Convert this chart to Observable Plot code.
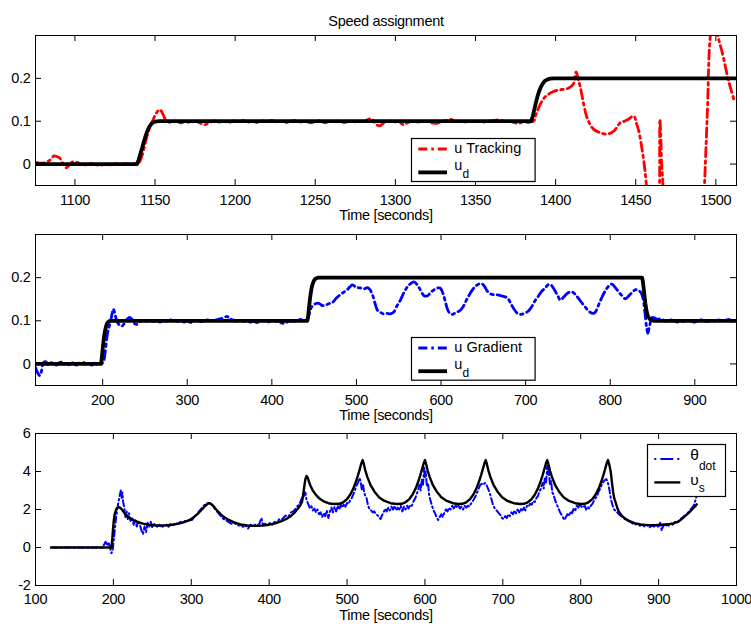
<!DOCTYPE html>
<html><head><meta charset="utf-8">
<script src="https://cdn.jsdelivr.net/npm/d3@7"></script>
<script src="https://cdn.jsdelivr.net/npm/@observablehq/plot@0.6"></script>
<style>
body{margin:0;background:#fff;}
#chart{position:relative;width:751px;height:624px;}
</style></head>
<body><div id="chart"></div>
<script>
// ---------- DATA ----------
const titleText = "Speed assignment";
const xLabel = "Time [seconds]";

// Panel 1: tracking controller
const p1XTicks = [1100,1150,1200,1250,1300,1350,1400,1450,1500];
const p1YTicks = [0,0.1,0.2];
const p1XDomain = [1075.4,1512.9];
const p1YDomain = [-0.05,0.3];
const uTracking = [[1075.4,0.004],[1078,0.002],[1081,0.003],[1084,0.008],[1087,0.019],[1089,0.017],[1090.5,0.014],[1092.5,0.002],[1094.5,-0.009],[1096.5,-0.002],[1098.5,0.005],[1101,0.004],[1104,0.001],[1107,-0.002],[1110,0.001],[1113,-0.001],[1116,-0.003],[1119,0],[1122,-0.002],[1125,0.001],[1128,-0.001],[1131,0.001],[1134,0],[1137,0.001],[1139.5,0.001],[1141,0.01],[1143,0.035],[1145,0.065],[1147,0.088],[1149,0.105],[1151,0.12],[1153,0.127],[1155,0.116],[1157,0.101],[1160,0.097],[1163,0.1],[1166,0.096],[1169,0.099],[1172,0.097],[1175,0.1],[1178,0.096],[1181,0.092],[1184,0.097],[1187,0.101],[1190,0.098],[1193,0.1],[1196,0.097],[1199,0.101],[1202,0.099],[1205,0.102],[1208,0.098],[1211,0.1],[1214,0.097],[1217,0.101],[1220,0.099],[1223,0.102],[1226,0.098],[1229,0.1],[1232,0.097],[1235,0.1],[1238,0.102],[1241,0.098],[1244,0.1],[1247,0.096],[1250,0.099],[1253,0.101],[1256,0.096],[1259,0.1],[1262,0.098],[1265,0.101],[1268,0.097],[1271,0.1],[1274,0.098],[1277,0.101],[1280,0.099],[1283,0.104],[1285,0.106],[1287,0.097],[1290,0.089],[1293,0.097],[1296,0.101],[1299,0.098],[1302,0.1],[1305,0.092],[1308,0.097],[1311,0.1],[1314,0.098],[1317,0.101],[1320,0.099],[1323,0.096],[1326,0.095],[1329,0.1],[1332,0.102],[1335,0.104],[1338,0.099],[1341,0.101],[1344,0.098],[1347,0.1],[1350,0.099],[1353,0.101],[1356,0.098],[1359,0.1],[1362,0.102],[1365,0.103],[1368,0.099],[1371,0.1],[1374,0.097],[1377,0.095],[1380,0.099],[1383,0.097],[1385,0.099],[1386.3,0.1],[1388,0.118],[1390.5,0.14],[1393,0.155],[1395.7,0.163],[1398,0.168],[1401,0.172],[1404,0.174],[1408,0.177],[1411,0.186],[1412.8,0.215],[1414,0.2],[1415.5,0.178],[1417.5,0.14],[1419.3,0.112],[1421.5,0.093],[1423.8,0.081],[1428,0.073],[1432.2,0.07],[1436.3,0.077],[1440.5,0.097],[1443,0.1],[1445.6,0.105],[1448.8,0.112],[1450.5,0.095],[1451.9,0.077],[1453.5,0.045],[1455,0.008],[1456.6,-0.046],[1458,-0.15],[1460,-0.35],[1464.2,-0.3],[1464.9,-0.05],[1465.1,0.105],[1465.6,0.07],[1466.2,0.0],[1467,-0.05],[1467.6,-0.3],[1475,-0.5],[1488,-0.4],[1492.2,-0.1],[1492.9,-0.05],[1494.7,0.12],[1496.6,0.3],[1499,0.35],[1501.2,0.3],[1504,0.26],[1508,0.194],[1511.6,0.146]];
const udTracking = [[1075.4,0],[1138.8,0],[1140,0.012],[1141,0.026],[1142,0.038],[1143,0.052],[1144,0.064],[1145,0.075],[1146,0.084],[1147,0.09],[1148,0.095],[1149.5,0.0985],[1151,0.0996],[1153,0.1],[1384.7,0.1],[1385.7,0.111],[1386.7,0.127],[1387.7,0.143],[1388.7,0.158],[1389.7,0.17],[1390.8,0.18],[1392,0.188],[1393.3,0.194],[1394.8,0.197],[1396.5,0.1993],[1399,0.2],[1512.9,0.2]];

// Panel 2: gradient controller
const p2XTicks = [200,300,400,500,600,700,800,900];
const p2YTicks = [0,0.1,0.2];
const p2XDomain = [120.6,949.3];
const p2YDomain = [-0.05,0.3];
const uGradient = [[120.6,-0.008],[123,-0.02],[125.5,-0.027],[127.5,-0.018],[130,0.003],[133,0.005],[136,-0.002],[139,0.003],[142,0.001],[145,-0.003],[148,0.002],[151,0.004],[154,-0.001],[157,0.002],[160,-0.002],[163,0.003],[166,0.001],[169,-0.003],[172,0.002],[175,0],[178,0.003],[181,-0.002],[184,0.001],[187,-0.003],[190,0.002],[193,-0.001],[196,0.001],[199,0.001],[201,0.005],[202.5,0.02],[204,0.045],[205.5,0.068],[207.5,0.085],[209.2,0.097],[211,0.115],[212.5,0.127],[214,0.12],[215.5,0.108],[217,0.098],[220,0.09],[223,0.088],[226,0.095],[229,0.104],[232,0.108],[235,0.103],[238,0.093],[241,0.092],[244,0.098],[248,0.101],[252,0.099],[256,0.102],[260,0.098],[264,0.1],[268,0.097],[272,0.101],[276,0.099],[280,0.102],[284,0.1],[288,0.098],[292,0.101],[296,0.097],[300,0.099],[304,0.096],[308,0.1],[312,0.101],[316,0.098],[320,0.1],[324,0.102],[328,0.099],[332,0.101],[336,0.103],[340,0.105],[344,0.108],[347,0.11],[350,0.105],[354,0.102],[358,0.099],[362,0.101],[366,0.098],[370,0.1],[374,0.097],[378,0.099],[382,0.096],[386,0.098],[390,0.1],[394,0.097],[398,0.099],[402,0.101],[406,0.098],[410,0.096],[414,0.094],[418,0.097],[422,0.1],[426,0.099],[430,0.101],[434,0.103],[438,0.1],[441,0.102],[443,0.108],[445,0.122],[447,0.132],[449,0.136],[452,0.14],[456,0.14],[460,0.135],[464,0.137],[468,0.14],[472,0.143],[476,0.152],[480,0.159],[484,0.165],[488,0.17],[492,0.178],[495,0.183],[498,0.18],[501,0.177],[505,0.176],[509,0.174],[513,0.177],[516,0.172],[519,0.16],[522,0.14],[525,0.124],[528,0.12],[532,0.116],[536,0.117],[540,0.116],[544,0.12],[548,0.135],[552,0.148],[556,0.165],[560,0.178],[564,0.186],[568,0.19],[572,0.183],[576,0.17],[580,0.158],[584,0.158],[588,0.166],[592,0.172],[596,0.176],[599,0.176],[602,0.165],[605,0.145],[608,0.125],[611,0.116],[614,0.115],[618,0.12],[622,0.123],[626,0.132],[630,0.148],[634,0.162],[638,0.174],[642,0.182],[646,0.186],[649,0.185],[652,0.178],[655,0.168],[659,0.162],[663,0.16],[667,0.16],[671,0.158],[675,0.156],[679,0.152],[683,0.138],[687,0.125],[691,0.116],[695,0.115],[699,0.118],[703,0.122],[707,0.132],[711,0.146],[715,0.157],[719,0.168],[723,0.176],[727,0.184],[730,0.183],[734,0.172],[738,0.158],[741,0.148],[745,0.155],[749,0.163],[753,0.167],[756,0.166],[760,0.158],[764,0.148],[768,0.138],[772,0.128],[776,0.12],[780,0.117],[783,0.122],[787,0.14],[791,0.158],[795,0.172],[799,0.182],[802,0.185],[806,0.177],[810,0.167],[814,0.158],[818,0.151],[822,0.158],[826,0.166],[830,0.172],[834,0.17],[837,0.163],[839,0.15],[841,0.12],[843,0.085],[844.5,0.071],[846,0.083],[848,0.1],[850,0.108],[853,0.106],[856,0.103],[860,0.105],[864,0.1],[868,0.098],[872,0.102],[876,0.099],[880,0.097],[884,0.1],[888,0.098],[892,0.101],[896,0.099],[900,0.097],[904,0.1],[908,0.102],[912,0.098],[916,0.099],[920,0.101],[924,0.099],[928,0.102],[932,0.1],[936,0.101],[940,0.103],[944,0.099],[949.3,0.103]];
const udGradient = [[120.6,0],[198.2,0],[199,0.015],[200,0.035],[201,0.053],[202,0.068],[203,0.079],[204,0.087],[205,0.093],[206.3,0.097],[208,0.0993],[210,0.1],[442,0.1],[443,0.113],[444,0.132],[445,0.15],[446,0.164],[447,0.176],[448,0.184],[449.3,0.191],[450.7,0.196],[452.5,0.1985],[455,0.2],[837.7,0.2],[838.7,0.19],[839.6,0.175],[840.6,0.157],[841.6,0.14],[842.6,0.127],[843.6,0.117],[845,0.109],[846.7,0.104],[848.5,0.1015],[851.4,0.1],[949.3,0.1]];

// Panel 3: theta_dot vs upsilon_s
const p3XTicks = [100,200,300,400,500,600,700,800,900,1000];
const p3YTicks = [-2,0,2,4,6];
const p3XDomain = [100,1000];
const p3YDomain = [-2,6];
const thetaDot = [[120,0],[150,0],[186,0],[188,0.15],[190,0.3],[192,0.1],[194,0.28],[196,-0.05],[197.5,-0.3],[199,-0.15],[200.5,0.4],[202,1.0],[203.5,1.6],[205,2.0],[206.5,2.4],[208,2.7],[209.5,3.0],[210.5,2.6],[211.5,2.9],[212.5,2.4],[214,2.1],[215.5,1.6],[217,1.9],[218.5,1.5],[220,1.8],[222,1.4],[224,1.6],[226,1.2],[228,1.5],[230,1.1],[232,1.4],[234,1.2],[236,0.9],[238,0.7],[240,1.1],[242,0.8],[244,1.3],[246,1.1],[248,1.35],[250,1.05],[253,1.25],[256,1.1],[259,1.2],[262,1.05],[265,1.15],[268,1.2],[271,1.1],[274,1.25],[277,1.2],[280,1.3],[283,1.25],[286,1.35],[289,1.3],[292,1.4],[295,1.35],[298,1.45],[301,1.45],[304,1.6],[307,1.75],[310,1.9],[313,2.05],[316,2.2],[319,2.3],[322,2.35],[325,2.3],[328,2.2],[331,2.0],[334,1.85],[337,1.7],[340,1.55],[343,1.45],[346,1.4],[349,1.3],[352,1.25],[355,1.3],[358,1.2],[361,1.15],[364,1.2],[367,1.05],[370,1.15],[373,1.0],[376,1.2],[379,1.1],[382,1.2],[385,1.15],[388,1.3],[390,1.55],[392,1.2],[395,1.25],[398,1.15],[401,1.3],[404,1.2],[407,1.35],[410,1.3],[413,1.5],[416,1.45],[419,1.6],[422,1.7],[425,1.65],[428,1.85],[431,1.9],[434,2.05],[437,2.2],[440,2.4],[442,2.6],[443.5,2.85],[445,2.7],[446.5,2.9],[448,2.5],[450,2.3],[452,2.1],[454,2.2],[456,1.95],[458,2.05],[460,1.85],[462,2.0],[464,1.75],[466,1.85],[468,1.6],[470,1.8],[472,1.65],[474,1.95],[476,1.55],[478,1.9],[480,2.1],[482,1.85],[484,2.15],[486,1.9],[488,2.2],[490,2.0],[492,2.25],[494,2.1],[496,2.3],[498,2.15],[500,2.35],[502,2.3],[504,2.5],[506,2.6],[508,2.8],[510,3.0],[512,3.25],[514,3.4],[516,3.65],[517.5,3.5],[519,3.0],[520.5,3.3],[522,2.9],[523.5,2.7],[525,2.6],[527,2.2],[529,2.0],[531,1.95],[533,1.85],[535,1.9],[537,1.75],[539,1.7],[541,1.6],[543,1.5],[545,1.7],[547,1.85],[549,2.05],[551,1.9],[553,2.1],[555,1.95],[557,2.15],[559,2.0],[561,2.2],[563,1.95],[565,2.1],[567,2.0],[569,2.2],[571,1.9],[573,2.15],[575,2.0],[577,2.2],[579,2.05],[581,2.25],[583,2.2],[585,2.4],[587,2.55],[589,2.75],[591,3.0],[593,3.3],[594.5,3.0],[596,3.6],[597.5,3.3],[599,4.2],[600,3.7],[601,4.0],[602.5,3.2],[604,3.4],[605.5,2.7],[607,2.5],[609,2.2],[611,1.95],[613,1.8],[615,1.6],[617,1.45],[619,1.6],[621,1.75],[623,1.6],[625,1.85],[627,2.0],[629,1.9],[631,2.1],[633,2.0],[635,2.2],[637,2.05],[639,2.25],[641,2.1],[643,2.2],[645,2.05],[647,2.15],[649,2.0],[651,2.2],[653,2.1],[655,2.2],[657,2.15],[659,2.3],[661,2.4],[663,2.55],[665,2.7],[667,2.9],[669,3.1],[671,3.3],[673,3.35],[675,3.3],[677,3.4],[679,3.3],[681,3.1],[683,2.9],[685,2.6],[687,2.3],[689,2.1],[691,2.0],[693,1.9],[695,1.8],[697,1.7],[699,1.55],[701,1.5],[703,1.65],[705,1.55],[707,1.75],[709,1.65],[711,1.85],[713,1.75],[715,1.95],[717,1.8],[719,2.0],[721,1.85],[723,2.05],[725,1.9],[727,2.1],[729,1.95],[731,2.2],[733,2.15],[735,2.3],[737,2.25],[739,2.45],[741,2.4],[743,2.6],[745,2.7],[747,2.95],[749,3.1],[751,3.4],[752.5,3.1],[754,3.7],[755.5,3.4],[757,4.3],[758,3.8],[759,4.1],[760.5,3.3],[762,3.5],[763.5,2.9],[765,2.8],[767,2.5],[769,2.3],[771,2.1],[773,1.9],[775,1.75],[777,1.6],[779,1.45],[781,1.6],[783,1.75],[785,1.65],[787,1.9],[789,1.8],[791,2.05],[793,1.95],[795,2.2],[797,2.1],[799,2.3],[801,2.15],[803,2.1],[805,2.2],[807,2.0],[809,2.15],[811,2.05],[813,2.2],[815,2.3],[817,2.45],[819,2.6],[821,2.7],[823,2.95],[825,3.1],[827,3.3],[829,3.45],[831,3.55],[833,3.6],[835,3.4],[837,3.0],[839,2.5],[841,2.2],[843,2.0],[845,1.9],[847,1.85],[849,1.75],[852,1.65],[855,1.55],[858,1.45],[861,1.4],[864,1.35],[867,1.25],[870,1.2],[873,1.25],[876,1.15],[879,1.2],[882,1.1],[885,1.2],[888,1.05],[891,1.15],[894,1.1],[897,1.2],[900,1.05],[902,1.3],[904,0.9],[906,1.15],[909,1.2],[912,1.1],[915,1.3],[918,1.2],[921,1.35],[924,1.3],[927,1.45],[930,1.55],[933,1.65],[936,1.75],[939,1.9],[942,2.05],[945,2.2],[947,2.45],[949,2.75]];
const upsilonS = [[120,0],[197.5,0],[198.5,0.4],[199.5,0.95],[200.5,1.42],[201.5,1.72],[203,1.95],[204.5,2.07],[206.5,2.13],[208.5,2.1],[211,2.0],[214,1.82],[218,1.65],[222,1.52],[226,1.43],[232,1.33],[238,1.26],[245,1.2],[252,1.17],[260,1.16],[268,1.17],[276,1.2],[284,1.26],[292,1.35],[298,1.45],[304,1.62],[309,1.8],[314,2.02],[318,2.2],[321,2.3],[323,2.33],[325,2.3],[328,2.2],[332,2.0],[337,1.78],[342,1.6],[348,1.45],[355,1.32],[363,1.22],[372,1.16],[382,1.14],[392,1.16],[400,1.2],[408,1.27],[415,1.37],[422,1.5],[428,1.66],[433,1.85],[437,2.05],[440,2.22],[442,2.38],[443.5,2.7],[445,3.2],[446.5,3.6],[448,3.77],[449.5,3.68],[451,3.48],[453,3.25],[456,3.0],[460,2.77],[465,2.56],[470,2.43],[476,2.33],[482,2.29],[490,2.3],[495,2.38],[500,2.55],[504,2.78],[508,3.1],[511,3.42],[514,3.8],[516.5,4.15],[518.5,4.45],[520,4.6],[521.5,4.4],[523.5,4.05],[526,3.72],[530,3.3],[535,2.95],[541,2.65],[548,2.45],[556,2.33],[564,2.29],[570,2.3],[575,2.38],[580,2.55],[584,2.78],[588,3.1],[591,3.42],[594,3.8],[596.5,4.15],[598.5,4.45],[600,4.6],[601.5,4.4],[603.5,4.05],[606,3.72],[610,3.3],[615,2.95],[621,2.65],[628,2.45],[636,2.33],[643,2.29],[648,2.3],[653,2.38],[658,2.55],[662,2.78],[666,3.1],[669,3.42],[672,3.8],[674.5,4.15],[676.5,4.45],[678,4.6],[679.5,4.4],[681.5,4.05],[684,3.72],[688,3.3],[693,2.95],[699,2.65],[706,2.45],[714,2.33],[722,2.29],[727,2.3],[732,2.38],[737,2.55],[741,2.78],[745,3.1],[748,3.42],[751,3.8],[753.5,4.15],[755.5,4.45],[757,4.6],[758.5,4.4],[760.5,4.05],[763,3.72],[767,3.3],[772,2.95],[778,2.65],[785,2.45],[793,2.33],[800,2.29],[805,2.3],[810,2.38],[815,2.55],[819,2.78],[823,3.1],[826,3.42],[829,3.8],[831.5,4.15],[833.5,4.45],[835,4.6],[836.5,4.4],[838.5,4.0],[840,3.45],[841.5,2.95],[843,2.6],[845,2.35],[847,2.08],[849,1.88],[853,1.66],[857,1.52],[862,1.4],[869,1.28],[877,1.21],[886,1.18],[895,1.18],[904,1.2],[912,1.22],[919,1.27],[926,1.38],[932,1.58],[938,1.8],[943,2.0],[949,2.27]];

// ---------- DRAWING ----------
const FONT = '"Liberation Sans", Arial, Helvetica, sans-serif';
const chart = document.getElementById("chart");
const rows = pts => pts.map(([t, v]) => ({t, v}));
const fmt = d => String(d);

function panel(cfg) {
  const W = 751, H = 224, ml = 35, mr = 15;
  const innerW = W - ml - mr, innerH = H - cfg.mt - cfg.mb;
  const marks = [
    Plot.ruleX(cfg.xTicks, {insetTop: innerH - 6, stroke: "black"}),
    Plot.ruleX(cfg.xTicks, {insetBottom: innerH - 6, stroke: "black"}),
    Plot.ruleY(cfg.yTicks, {insetRight: innerW - 6, stroke: "black"}),
    Plot.ruleY(cfg.yTicks, {insetLeft: innerW - 6, stroke: "black"}),
    Plot.axisX(cfg.xTicks, {tickSize: 0, tickPadding: cfg.xPad, tickFormat: fmt, fill: "black"}),
    Plot.axisY(cfg.yTicks, {tickSize: 0, tickPadding: 5, tickFormat: fmt, fill: "black"}),
    ...cfg.lines,
    Plot.frame({stroke: "black", strokeWidth: 1}),
    Plot.text([xLabel], {frameAnchor: "bottom", dy: 34.5, fill: "black"})
  ];
  if (cfg.title) marks.push(Plot.text([cfg.title], {frameAnchor: "top", dy: -19.5, fill: "black"}));
  const svg = Plot.plot({
    width: W, height: H,
    marginLeft: ml, marginRight: mr, marginTop: cfg.mt, marginBottom: cfg.mb,
    x: {domain: cfg.xDomain, label: null},
    y: {domain: cfg.yDomain, label: null},
    style: {fontFamily: FONT, fontSize: "14.5px", letterSpacing: "-0.3px", color: "black", background: "transparent", overflow: "visible"},
    marks
  });
  svg.style.position = "absolute";
  svg.style.left = "0px";
  svg.style.top = cfg.top + "px";
  chart.appendChild(svg);
}

const dashA = "9,4,2.5,4";
panel({
  top: 0, mt: 35, mb: 39, xPad: 9.5, title: titleText,
  xDomain: p1XDomain, yDomain: p1YDomain, xTicks: p1XTicks, yTicks: p1YTicks,
  lines: [
    Plot.line(rows(uTracking), {x: "t", y: "v", stroke: "#ff0000", strokeWidth: 2.8, strokeDasharray: dashA, curve: "catmull-rom", clip: true}),
    Plot.line(rows(udTracking), {x: "t", y: "v", stroke: "black", strokeWidth: 3.8, clip: true})
  ]
});
panel({
  top: 200, mt: 34, mb: 39, xPad: 9.5,
  xDomain: p2XDomain, yDomain: p2YDomain, xTicks: p2XTicks, yTicks: p2YTicks,
  lines: [
    Plot.line(rows(uGradient), {x: "t", y: "v", stroke: "#0000ff", strokeWidth: 2.8, strokeDasharray: dashA, curve: "catmull-rom", clip: true}),
    Plot.line(rows(udGradient), {x: "t", y: "v", stroke: "black", strokeWidth: 3.8, clip: true})
  ]
});
panel({
  top: 400, mt: 33, mb: 39, xPad: 8,
  xDomain: p3XDomain, yDomain: p3YDomain, xTicks: p3XTicks, yTicks: p3YTicks,
  lines: [
    Plot.line(rows(thetaDot), {x: "t", y: "v", stroke: "#0000ff", strokeWidth: 2, strokeDasharray: "6,3,1.5,3", clip: true}),
    Plot.line(rows(upsilonS), {x: "t", y: "v", stroke: "black", strokeWidth: 2.4, clip: true})
  ]
});

function legend(left, top, w, h, entries) {
  const svg = d3.create("svg").attr("width", w).attr("height", h)
    .style("position", "absolute").style("left", left + "px").style("top", top + "px").style("overflow", "visible");
  svg.append("rect").attr("x", 0.5).attr("y", 0.5).attr("width", w - 1).attr("height", h - 1)
    .attr("fill", "white").attr("stroke", "black").attr("stroke-width", 1.2);
  for (const e of entries) {
    svg.append("line").attr("x1", e.x1).attr("x2", e.x2).attr("y1", e.ly).attr("y2", e.ly)
      .attr("stroke", e.color).attr("stroke-width", e.width).attr("stroke-dasharray", e.dash || null)
      .attr("stroke-dashoffset", e.offset || 0);
    const t = svg.append("text").attr("x", e.tx).attr("y", e.ty)
      .attr("font-family", FONT).attr("font-size", e.size || 14.5).attr("fill", "black").text(e.label);
    if (e.sub) t.append("tspan").attr("font-size", 12).attr("dy", e.subDy).text(e.sub);
  }
  chart.appendChild(svg.node());
}
legend(410.7, 138.3, 124.6, 44, [
  {x1: 7.3, x2: 36, ly: 11, color: "#ff0000", width: 2.8, dash: dashA, tx: 43.3, ty: 15.2, label: "u Tracking"},
  {x1: 7.3, x2: 36, ly: 34.4, color: "black", width: 3.8, tx: 43.3, ty: 31.8, label: "u", sub: "d", subDy: 8}
]);
legend(410.7, 337.3, 124.6, 43.7, [
  {x1: 7.3, x2: 36, ly: 11, color: "#0000ff", width: 2.8, dash: dashA, tx: 43.3, ty: 15.4, label: "u Gradient"},
  {x1: 7.3, x2: 36, ly: 34.2, color: "black", width: 3.8, tx: 43.3, ty: 31.8, label: "u", sub: "d", subDy: 8}
]);
legend(646.7, 444.3, 79, 53, [
  {x1: 7.3, x2: 33.3, ly: 15, color: "#0000ff", width: 2, dash: "13,4,2,4", offset: 17, tx: 43.3, ty: 16.4, size: 15.5, label: "θ", sub: "dot", subDy: 10},
  {x1: 7.3, x2: 33.3, ly: 38.4, color: "black", width: 2.4, tx: 43.3, ty: 40.7, size: 15.5, label: "υ", sub: "s", subDy: 7.7}
]);
</script>
</body></html>
